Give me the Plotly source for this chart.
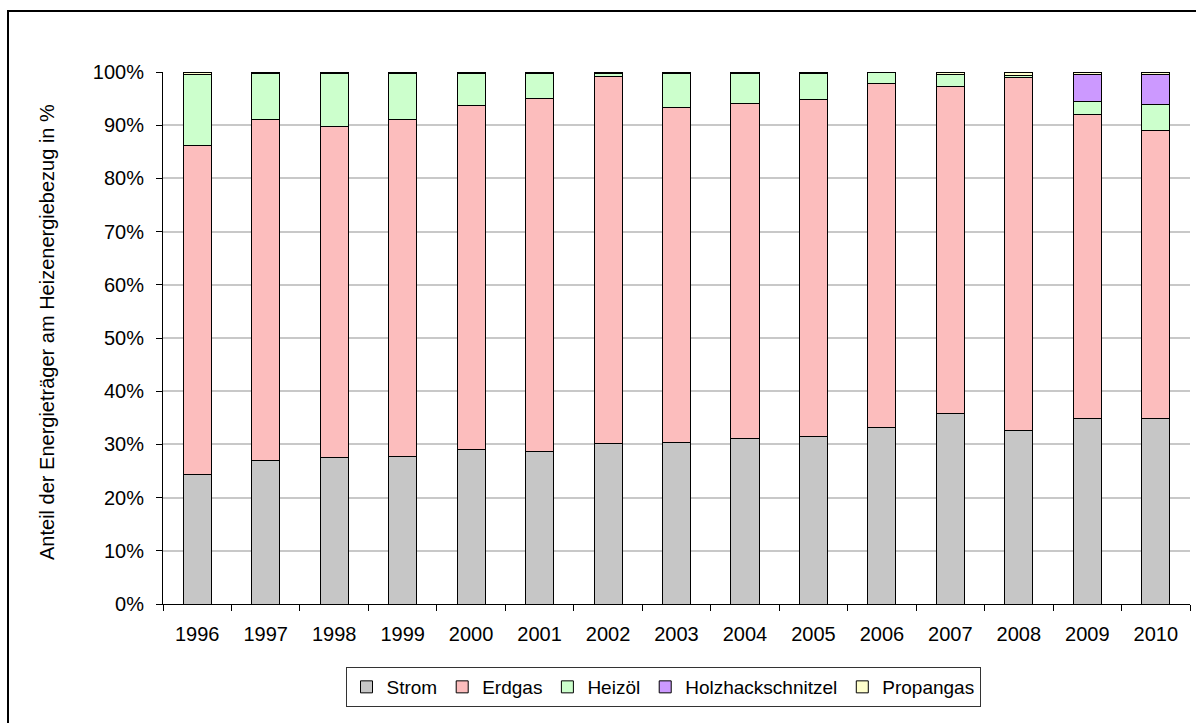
import plotly.graph_objects as go

# Heating energy mix per year (shares in %)
years = ["1996", "1997", "1998", "1999", "2000", "2001", "2002", "2003",
         "2004", "2005", "2006", "2007", "2008", "2009", "2010"]
strom = [24.4, 27.0, 27.6, 27.7, 29.1, 28.6, 30.1, 30.3, 31.1, 31.4, 33.1, 35.8, 32.6, 34.8, 34.8]
erdgas = [61.8, 64.1, 62.2, 63.4, 64.6, 66.4, 69.1, 63.0, 63.0, 63.4, 64.8, 61.5, 66.4, 57.3, 54.2]
heizoel = [13.4, 8.7, 10.0, 8.7, 6.1, 4.8, 0.6, 6.5, 5.7, 5.0, 2.0, 2.2, 0.4, 2.4, 4.9]
holz = [0, 0, 0, 0, 0, 0, 0, 0, 0, 0, 0, 0, 0, 5.1, 5.7]
propangas = [0.4, 0.2, 0.2, 0.2, 0.2, 0.2, 0.2, 0.2, 0.2, 0.2, 0.1, 0.5, 0.6, 0.4, 0.4]

y_ticks = [0, 10, 20, 30, 40, 50, 60, 70, 80, 90, 100]
y_labels = ["0%", "10%", "20%", "30%", "40%", "50%", "60%", "70%", "80%", "90%", "100%"]

series = [
    ("Strom", strom, "#C6C6C6"),
    ("Erdgas", erdgas, "#FCBDBD"),
    ("Heizöl", heizoel, "#CCFFCC"),
    ("Holzhackschnitzel", holz, "#CC99FF"),
    ("Propangas", propangas, "#FFFFCC"),
]

FAM = "Liberation Sans, Arial, sans-serif"
font = dict(family=FAM, size=20, color="black")

fig = go.Figure()
for name, vals, col in series:
    fig.add_trace(go.Bar(
        x=years, y=vals, name=name,
        marker=dict(color=col, line=dict(color="black", width=1)),
    ))

W, H = 1196, 723
L, R, T, B = 163, 6, 72, 119
pw, ph = W - L - R, H - T - B

fig.update_layout(
    width=W, height=H, autosize=False,
    margin=dict(l=L, r=R, t=T, b=B, autoexpand=False),
    barmode="stack", bargap=0.59,
    paper_bgcolor="white", plot_bgcolor="white",
    font=font,
    showlegend=True,
    legend=dict(
        orientation="h", traceorder="normal",
        x=(663 - L) / pw, xanchor="center",
        y=(H - B - 667) / ph, yanchor="top",
        bordercolor="#333333", borderwidth=1,
        font=dict(family=FAM, size=19, color="black"),
        itemwidth=30, tracegroupgap=0,
    ),
    xaxis=dict(
        type="category", showline=True, linecolor="black", linewidth=1,
        ticks="outside", tickson="boundaries", ticklen=6, tickcolor="black",
        showgrid=False, tickfont=font, ticklabelstandoff=12,
        automargin=False,
    ),
    yaxis=dict(
        range=[0, 100], tickvals=y_ticks, ticktext=y_labels,
        showline=True, linecolor="black", linewidth=1,
        ticks="outside", ticklen=6, tickcolor="black",
        showgrid=True, gridcolor="#C8C8C8", gridwidth=1.5,
        tickfont=font, ticklabelstandoff=8,
        zeroline=False, automargin=False,
    ),
)

# rotated y-axis title
fig.add_annotation(
    text="Anteil der Energieträger am Heizenergiebezug in %",
    xref="paper", yref="paper", x=(47 - L) / pw, y=(H - B - 332) / ph,
    xanchor="center", yanchor="middle", textangle=-90, showarrow=False,
    font=font,
)

# outer chart frame
fig.add_shape(type="rect", xref="paper", yref="paper",
              x0=(8 - L) / pw, x1=1.1, y0=-0.4, y1=(H - B - 11) / ph,
              line=dict(color="black", width=2), fillcolor="rgba(0,0,0,0)", layer="below")

fig.write_html("out.html")
